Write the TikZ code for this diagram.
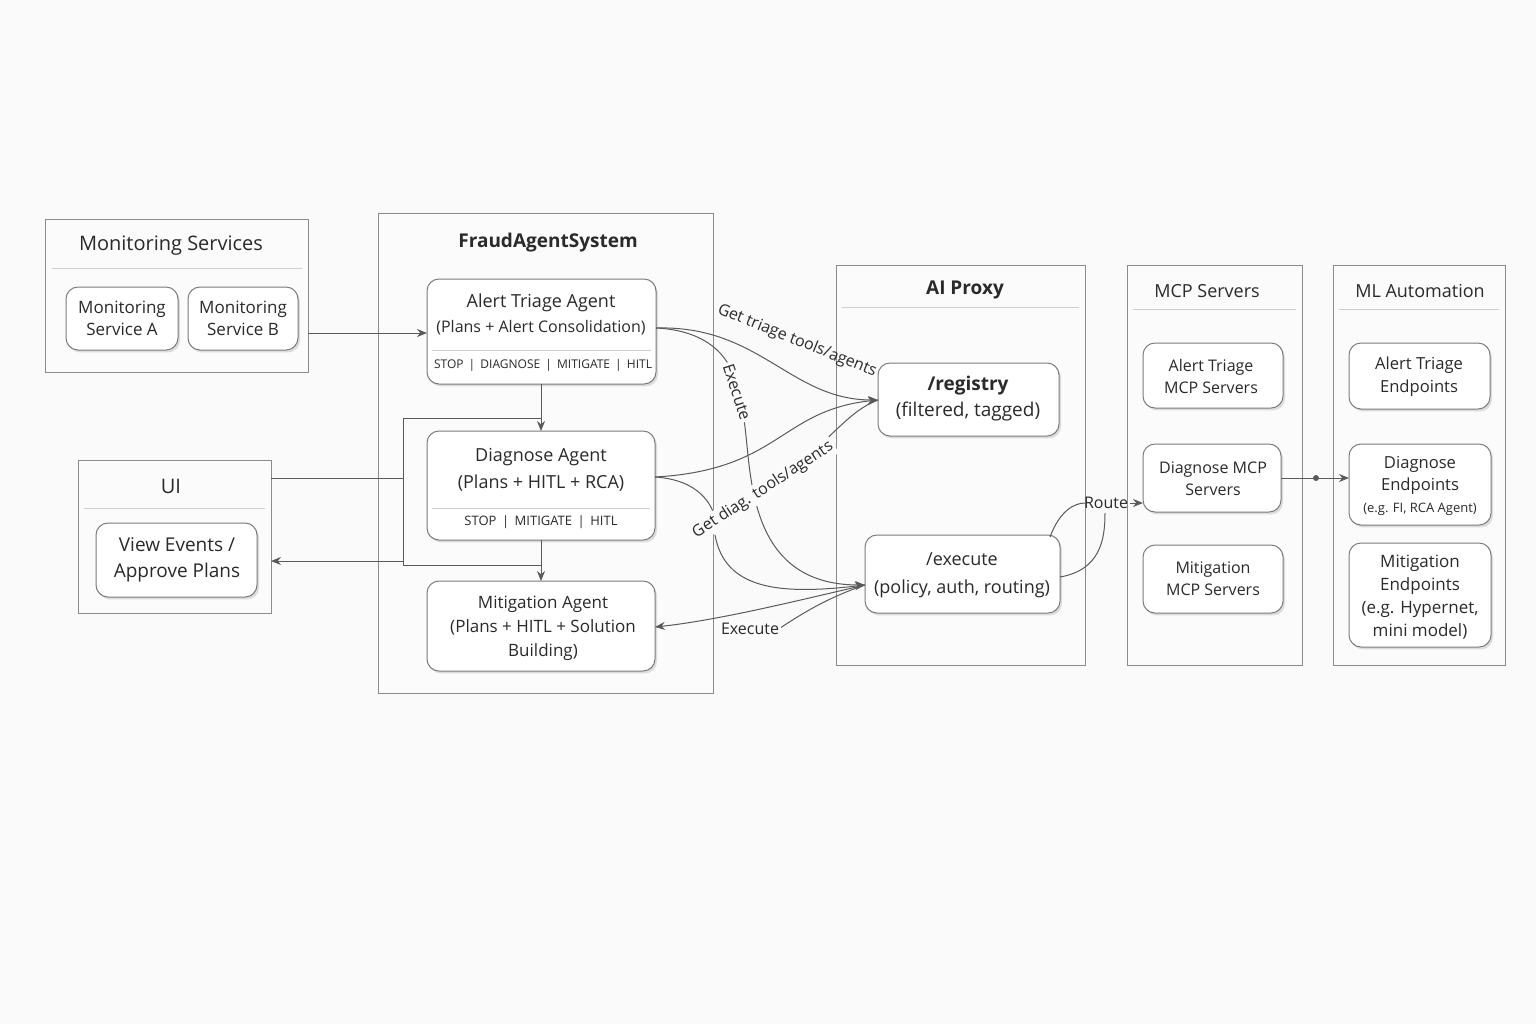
\documentclass[tikz,border=0pt]{standalone}
\usepackage{fontspec}
\setmainfont{Open Sans}
\usetikzlibrary{shadows,arrows.meta}
\definecolor{txt}{HTML}{2A2A2A}
\definecolor{ln}{HTML}{5A5A5A}
\begin{document}
\begin{tikzpicture}[x=0.5pt,y=-0.5pt,
 cont/.style={draw=ln!70,line width=0.5pt,fill=white!97!gray},
 card/.style={draw=ln!80,line width=0.5pt,rounded corners=6pt,fill=white,drop shadow={opacity=0.25,shadow xshift=1pt,shadow yshift=-1.2pt}},
 ttl/.style={text=txt,font=\fontsize{10}{12}\selectfont},
 lbl/.style={text=txt,font=\fontsize{8.5}{11}\selectfont,align=center},
 sm/.style={text=txt,font=\fontsize{6}{8}\selectfont},
 conn/.style={draw=ln,line width=0.5pt,-{Stealth[length=5pt,width=4pt]}},
 plain/.style={draw=ln,line width=0.5pt},
 elbl/.style={text=txt,font=\fontsize{8}{10}\selectfont,inner sep=1pt,fill=white!97!gray}]
\fill[white!96!gray] (0,0) rectangle (1536,1024);
% containers
\draw[cont] (45,219) rectangle (308,372);
\node[ttl] (monT) at (171,246) {Monitoring Services};
\draw[ln!30] (52,268) -- (302,268);
\draw[cont] (378,213) rectangle (713,693);
\node[ttl,font=\fontsize{9.5}{12}\selectfont\bfseries] (fasT) at (548,243) {FraudAgentSystem};
\draw[cont] (78,460) rectangle (271,613);
\node[ttl] (uiT) at (171,486) {UI};
\draw[ln!30] (84,508) -- (265,508);
\draw[cont] (836,265) rectangle (1085,665);
\node[ttl,font=\fontsize{9.5}{12}\selectfont\bfseries] (apT) at (965,290) {AI Proxy};
\draw[ln!30] (842,307) -- (1079,307);
\draw[cont] (1127,265) rectangle (1302,665);
\node[ttl,font=\fontsize{9}{11}\selectfont] (mcpT) at (1207,291) {MCP Servers};
\draw[ln!30] (1133,309) -- (1296,309);
\draw[cont] (1333,265) rectangle (1505,665);
\node[ttl,font=\fontsize{9}{11}\selectfont] (mlT) at (1420,291) {ML Automation};
\draw[ln!30] (1339,309) -- (1499,309);
\coordinate (monE) at (308,333);
\coordinate (uiE) at (271,478);
\coordinate (uiE2) at (271,561);
% cards
\draw[card] (66,287) rectangle (178,350); \node[lbl] (sa) at (122,318) {Monitoring\\Service A};
\draw[card] (188,287) rectangle (298,350); \node[lbl] (sb) at (243,318) {Monitoring\\Service B};
\draw[card] (96,523) rectangle (257,597); \node[lbl,font=\fontsize{9.5}{13}\selectfont] (ve) at (177,560) {View Events /\\Approve Plans};
\draw[card] (427,279) rectangle (656,384);
\draw[ln!30] (432,350) -- (651,350);
\node[lbl,font=\fontsize{9}{12}\selectfont] (atA) at (541,303) {Alert Triage Agent};
\node[lbl,font=\fontsize{8}{10}\selectfont] (atB) at (541,328) {(Plans + Alert Consolidation)};
\node[sm] (atC) at (543,365) {STOP \,|\, DIAGNOSE \,|\, MITIGATE \,|\, HITL};
\draw[card] (427,431) rectangle (655,540);
\draw[ln!30] (432,508) -- (650,508);
\node[lbl,font=\fontsize{9}{12}\selectfont] (dgA) at (541,457) {Diagnose Agent};
\node[lbl,font=\fontsize{9}{12}\selectfont] (dgB) at (541,483) {(Plans + HITL + RCA)};
\node[sm,font=\fontsize{6.5}{8}\selectfont] (dgC) at (541,522) {STOP \,|\, MITIGATE \,|\, HITL};
\draw[card] (427,581) rectangle (655,671);
\node[lbl,font=\fontsize{8.5}{12}\selectfont] (mi) at (543,628) {Mitigation Agent\\(Plans + HITL + Solution\\Building)};
\draw[card] (878,363) rectangle (1059,436);
\node[lbl,font=\fontsize{9.5}{13}\selectfont] (reg) at (968,399) {\textbf{/registry}\\(filtered, tagged)};
\draw[card] (865,535) rectangle (1060,613);
\node[lbl,font=\fontsize{9}{14}\selectfont] (exe) at (962,575) {/execute\\(policy, auth, routing)};
\draw[card] (1143,343) rectangle (1283,408); \node[lbl,font=\fontsize{8}{11}\selectfont] (m1) at (1211,376) {Alert Triage\\MCP Servers};
\draw[card] (1143,444) rectangle (1281,512); \node[lbl,font=\fontsize{8}{11}\selectfont] (m2) at (1213,479) {Diagnose MCP\\Servers};
\draw[card] (1143,545) rectangle (1283,613); \node[lbl,font=\fontsize{8}{11}\selectfont] (m3) at (1213,579) {Mitigation\\MCP Servers};
\draw[card] (1349,343) rectangle (1490,409); \node[lbl,font=\fontsize{8.3}{11.5}\selectfont] (e1) at (1419,377) {Alert Triage\\Endpoints};
\draw[card] (1349,444) rectangle (1491,525); \node[lbl,font=\fontsize{8.3}{11}\selectfont] (e2) at (1420,486) {Diagnose\\Endpoints\\{\fontsize{6.5}{10}\selectfont (e.g. FI, RCA Agent)}};
\draw[card] (1349,543) rectangle (1491,647); \node[lbl,font=\fontsize{8.5}{11.5}\selectfont] (e3) at (1420,597) {Mitigation\\Endpoints\\(e.g. Hypernet,\\mini model)};
% anchors
\coordinate (atW) at (427,333); \coordinate (atE) at (656,328); \coordinate (atS) at (541,384);
\coordinate (dgN) at (541,431); \coordinate (dgS) at (541,540); \coordinate (dgE) at (655,477);
\coordinate (miN) at (541,581); \coordinate (miE) at (655,627);
\coordinate (regW) at (878,400); \coordinate (exeW) at (865,585);
\coordinate (exeN) at (1050,537); \coordinate (exeE) at (1060,577);
\coordinate (m2W) at (1143,503); \coordinate (m2E) at (1281,478); \coordinate (e2W) at (1349,478);
\coordinate (loopTop) at (403,418); \coordinate (loopBot) at (403,565);
% connectors
\draw[conn] (monE) -- (atW);
\draw[conn] (atS) -- (dgN);
\draw[conn] (dgS) -- (miN);
\draw[plain] (541,418) -- (loopTop) -- (loopBot) -- (541,565);
\draw[plain] (uiE) -- (403,478);
\draw[conn] (403,561) -- (uiE2);
\draw[conn] (atE) .. controls (760,325) and (790,400) .. (regW);
\draw[plain] (atE) .. controls (700,330) and (725,350) .. (733,375);
\draw[conn] (744,420) .. controls (752,470) and (745,585) .. (exeW);
\draw[conn] (dgE) .. controls (780,470) and (780,410) .. (regW);
\draw[plain] (dgE) .. controls (700,480) and (712,505) .. (716,520);
\draw[plain] (797,464) .. controls (830,440) and (850,410) .. (regW);
\draw[conn] (715,535) .. controls (725,590) and (780,595) .. (exeW);
\draw[conn] (exeW) .. controls (800,600) and (720,620) .. (miE);
\draw[plain] (exeW) .. controls (820,600) and (790,622) .. (780,628);
\node[elbl,fill=none,rotate=-22] (trL) at (797,341) {Get triage tools/agents};
\node[elbl,rotate=-72] (exL1) at (737,392) {Execute};
\node[elbl,rotate=33] (dgL) at (763,490) {Get diag. tools/agents};
\node[elbl] (exL) at (750,629) {Execute};
\draw[plain] (exeN) .. controls (1060,510) and (1075,503) .. (1085,503);
\node[elbl,fill=none] (rt) at (1106,503) {Route};
\draw[conn] (rt.east) -- (m2W);
\draw[plain] (exeE) .. controls (1100,570) and (1105,540) .. (1105,513);
\draw[conn] (m2E) -- (e2W);
\fill[ln] (1316,478) circle (3);
\end{tikzpicture}
\end{document}
